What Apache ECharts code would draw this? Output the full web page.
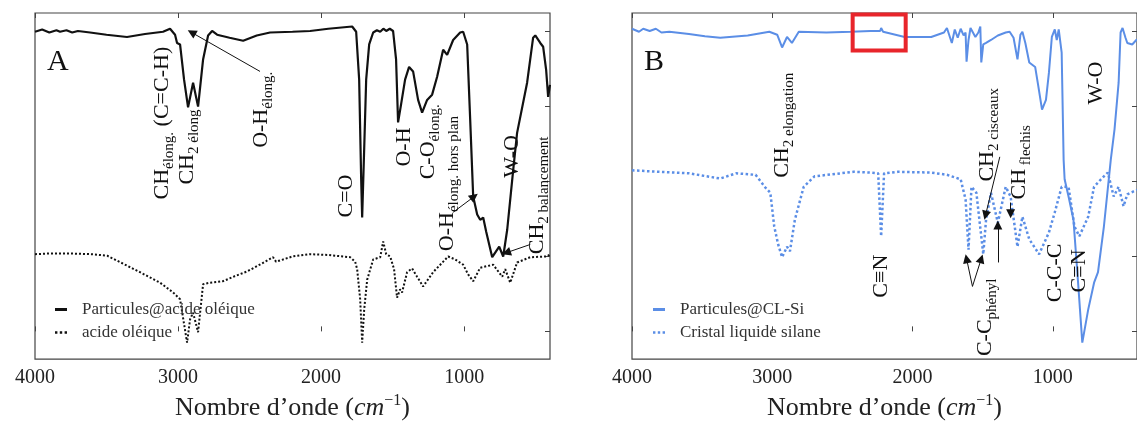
<!DOCTYPE html>
<html>
<head>
<meta charset="utf-8">
<script src="https://cdn.jsdelivr.net/npm/echarts@6/dist/echarts.min.js"></script>
<style>
  html, body { margin: 0; background: #fff; }
  #chart { width: 1137px; height: 426px; }
</style>
</head>
<body>
<div id="chart"></div>
<script>
// wavenumber (cm-1) ticks
const tickValues = [1000, 2000, 3000, 4000];
const yTicks = [0, 1, 2, 3, 4];

// panel A : [wavenumber, transmittance (a.u.)]
const particulesOleique = [
  [4000, 4.0], [3950, 4.03], [3900, 3.99], [3850, 4.02], [3825, 4.0], [3780, 4.02], [3740, 3.99],
  [3700, 4.01], [3615, 3.99], [3500, 3.96], [3357, 3.93], [3231, 3.97], [3105, 4.0], [3056, 4.04],
  [3021, 3.96], [3007, 3.85], [2986, 3.83], [2958, 3.36], [2930, 2.99], [2895, 3.32], [2860, 3.0],
  [2825, 3.63], [2790, 3.95], [2762, 4.01], [2727, 3.96], [2640, 3.92], [2545, 3.88], [2450, 3.95],
  [2357, 3.99], [2200, 4.0], [2077, 4.01], [1950, 4.04], [1783, 4.07], [1755, 4.0], [1734, 3.36],
  [1720, 2.03], [1713, 1.52], [1699, 2.43], [1685, 3.36], [1664, 3.83], [1636, 3.99], [1610, 4.02],
  [1587, 4.0], [1565, 4.04], [1545, 4.01], [1520, 4.04], [1497, 4.01], [1476, 3.63], [1462, 2.79],
  [1441, 3.03], [1413, 3.36], [1385, 3.53], [1357, 3.47], [1322, 3.09], [1294, 2.92], [1259, 3.09],
  [1224, 3.16], [1189, 3.4], [1147, 3.76], [1119, 3.69], [1077, 3.89], [1028, 3.99], [1007, 4.0],
  [979, 3.83], [958, 2.83], [937, 1.8], [909, 1.56], [888, 1.49], [867, 1.52], [846, 1.33],
  [804, 0.99], [755, 1.13], [727, 1.0], [699, 1.36], [657, 2.16], [630, 2.65], [560, 3.32],
  [518, 3.92], [503, 3.95], [468, 3.85], [448, 3.8], [427, 3.49], [413, 3.13], [400, 3.29]
];
const acideOleique = [
  [4000, 1.03], [3900, 1.04], [3755, 1.04], [3600, 1.03], [3496, 1.01], [3380, 0.9], [3266, 0.79],
  [3126, 0.65], [3035, 0.52], [2986, 0.43], [2937, -0.15], [2916, 0.16], [2895, 0.25], [2860, -0.01],
  [2825, 0.63], [2776, 0.65], [2685, 0.67], [2600, 0.74], [2517, 0.8], [2420, 0.9], [2336, 0.99],
  [2315, 0.93], [2200, 1.0], [2077, 1.03], [1950, 1.02], [1797, 0.99], [1762, 0.93], [1748, 0.83],
  [1727, 0.43], [1713, -0.15], [1699, 0.29], [1678, 0.69], [1636, 0.96], [1587, 0.99], [1566, 1.2],
  [1545, 1.03], [1517, 1.0], [1490, 0.83], [1469, 0.45], [1448, 0.56], [1434, 0.52], [1399, 0.79],
  [1364, 0.84], [1329, 0.73], [1287, 0.6], [1217, 0.79], [1112, 1.0], [1063, 0.96], [1007, 0.89],
  [972, 0.76], [937, 0.67], [888, 0.85], [797, 0.89], [734, 0.73], [713, 0.83], [678, 0.65],
  [630, 0.92], [538, 0.99], [420, 1.0], [400, 1.03]
];

// panel B
const particulesClSi = [
  [4000, 4.04], [3950, 4.0], [3920, 4.04], [3874, 4.01], [3830, 4.04], [3790, 3.99], [3734, 4.0],
  [3594, 3.97], [3480, 3.94], [3371, 3.92], [3175, 3.95], [3021, 4.0], [2965, 3.96], [2930, 3.79],
  [2895, 3.93], [2860, 3.85], [2811, 4.0], [2615, 3.99], [2441, 4.0], [2300, 4.01], [2231, 4.01],
  [2224, 4.05], [2210, 4.0], [2056, 3.93], [1867, 3.93], [1776, 3.99], [1755, 4.05], [1720, 3.85],
  [1699, 4.03], [1678, 3.92], [1657, 4.04], [1636, 3.95], [1622, 3.99], [1615, 3.6], [1601, 3.89],
  [1587, 4.05], [1552, 3.93], [1531, 3.99], [1517, 4.07], [1510, 3.59], [1496, 3.83], [1476, 3.85],
  [1441, 3.89], [1392, 3.95], [1336, 3.99], [1308, 4.0], [1280, 3.92], [1252, 3.63], [1231, 3.96],
  [1217, 4.0], [1196, 3.85], [1168, 3.59], [1147, 3.56], [1126, 3.53], [1105, 3.29], [1077, 2.96],
  [1049, 3.09], [1028, 3.45], [1007, 3.93], [986, 4.03], [972, 3.89], [958, 4.03], [937, 3.72],
  [923, 2.29], [916, 2.03], [888, 1.8], [853, 1.49], [818, 0.6], [790, -0.15], [748, 0.29],
  [706, 0.65], [678, 0.79], [636, 1.4], [587, 2.29], [560, 2.7], [531, 3.32], [517, 3.99],
  [503, 4.05], [482, 3.92], [469, 3.85], [434, 3.83], [400, 3.9]
];
const cristalLiquide = [
  [4000, 2.15], [3804, 2.13], [3594, 2.11], [3371, 2.04], [3259, 2.11], [3119, 2.09], [3049, 1.92],
  [3014, 1.85], [2986, 1.4], [2958, 1.16], [2930, 0.99], [2895, 1.13], [2874, 1.07], [2839, 1.49],
  [2776, 1.93], [2699, 2.07], [2420, 2.13], [2301, 2.12], [2245, 2.11], [2224, 1.27], [2203, 2.11],
  [2105, 2.13], [1867, 2.12], [1755, 2.09], [1657, 2.03], [1622, 1.76], [1601, 1.09], [1580, 1.93],
  [1545, 1.85], [1496, 1.03], [1476, 1.49], [1441, 1.85], [1392, 1.45], [1336, 1.93], [1301, 1.8],
  [1252, 1.13], [1217, 1.53], [1168, 1.23], [1098, 1.03], [1028, 1.32], [986, 1.59], [937, 1.93],
  [888, 1.93], [846, 1.4], [811, 1.27], [748, 1.53], [706, 1.93], [657, 2.03], [608, 2.12],
  [566, 1.8], [531, 1.93], [496, 1.67], [469, 1.83], [400, 1.89]
];

const blue = '#5b8ee6';
const serif = 'Liberation Serif';
const rich = {
  b: { fontSize: 22, fontFamily: serif, color: '#111' },
  s: { fontSize: 15, fontFamily: serif, color: '#111', padding: [14, 0, 0, 0] }
};
const dots = 'path://M0,0h2v2h-2zM4,0h2v2h-2zM8,0h2v2h-2z';

const chart = echarts.init(document.getElementById('chart'));

function xAxisFor(grid, pos) {
  return {
    type: 'value', gridIndex: grid, position: pos, inverse: true, min: 400, max: 4000,
    axisLine: { show: false },
    axisTick: { show: true, inside: true, length: 5, customValues: tickValues,
      lineStyle: { color: '#444', width: 1 } },
    axisLabel: { show: pos === 'bottom', customValues: tickValues, margin: 9,
      formatter: v => String(v), fontFamily: serif, fontSize: 20, color: '#222' },
    splitLine: { show: false },
    name: pos === 'bottom' ? 'Nombre d\u2019onde ({i|cm}{sup|\u22121})' : '',
    nameLocation: 'middle', nameGap: 32,
    nameTextStyle: {
      fontFamily: serif, fontSize: 26, color: '#222',
      rich: {
        i: { fontFamily: serif, fontStyle: 'italic', fontSize: 26, color: '#222' },
        sup: { fontFamily: serif, fontSize: 16, color: '#222', padding: [0, 0, 14, 0] }
      }
    }
  };
}
function yAxisFor(grid) {
  return {
    type: 'value', gridIndex: grid, position: 'right', min: -0.37, max: 4.25,
    axisLine: { show: false },
    axisTick: { show: true, inside: true, length: 5, customValues: yTicks,
      lineStyle: { color: '#444' } },
    axisLabel: { show: false },
    splitLine: { show: false }
  };
}
function line(name, data, xi, yi, color, type, width) {
  return {
    name, type: 'line', data, xAxisIndex: xi, yAxisIndex: yi,
    showSymbol: false, symbol: 'none', smooth: false,
    lineStyle: { color, width, type }, itemStyle: { color },
    z: type === 'solid' ? 3 : 2
  };
}
function arrows(pairs) {
  return {
    silent: true, symbol: ['none', 'triangle'], symbolSize: 9,
    label: { show: false },
    lineStyle: { color: '#111', width: 1, type: 'solid' },
    data: pairs.map(p => [{ coord: p[0] }, { coord: p[1] }])
  };
}
function legendFor(names, left) {
  return {
    data: [{ name: names[0], icon: 'rect' }, { name: names[1], icon: dots }],
    orient: 'vertical', left, top: 296, itemWidth: 12, itemHeight: 3, itemGap: 6,
    textStyle: { fontFamily: serif, fontSize: 17, color: '#333', padding: [0, 0, 0, 10] }
  };
}

const sA1 = line('Particules@acide ol\u00e9ique', particulesOleique, 0, 0, '#111', 'solid', 2.2);
sA1.markLine = arrows([
  [[2427, 3.47], [2905, 3.99]],
  [[1077, 1.59], [930, 1.8]],
  [[538, 1.16], [705, 1.05]]
]);
const sA2 = line('acide ol\u00e9ique', acideOleique, 0, 0, '#111', 'dotted', 2);
const sB1 = line('Particules@CL-Si', particulesClSi, 2, 1, blue, 'solid', 2);
sB1.markLine = arrows([
  [[1378, 2.33], [1480, 1.55]],
  [[1301, 1.72], [1301, 1.57]],
  [[1573, 0.6], [1615, 0.97]],
  [[1573, 0.6], [1510, 0.97]],
  [[1392, 0.92], [1392, 1.42]]
]);
const sB2 = line('Cristal liquide silane', cristalLiquide, 2, 1, blue, 'dotted', 2.5);

chart.setOption({
  animation: false,
  grid: [
    { left: 35, top: 13, width: 515, height: 347, show: true, borderColor: '#444', borderWidth: 1.2 },
    { left: 632, top: 13, width: 515, height: 347, show: true, borderColor: '#444', borderWidth: 1.2 }
  ],
  xAxis: [xAxisFor(0, 'bottom'), xAxisFor(0, 'top'), xAxisFor(1, 'bottom'), xAxisFor(1, 'top')],
  yAxis: [yAxisFor(0), yAxisFor(1)],
  legend: [
    legendFor(['Particules@acide ol\u00e9ique', 'acide ol\u00e9ique'], 50),
    legendFor(['Particules@CL-Si', 'Cristal liquide silane'], 648)
  ],
  series: [sA1, sA2, sB1, sB2]
});

// annotations: [text, wavenumber, value at text start, panel]
const notes = [
  ['{b|CH}{s|\u00e9long.}{b| (C=C-H)}', 3112, 1.76, 0],
  ['{b|CH}{s|2}{s| \u00e9long}', 2937, 1.96, 0],
  ['{b|O-H}{s|\u00e9long.}', 2420, 2.45, 0],
  ['{b|C=O}', 1825, 1.52, 0],
  ['{b|O-H}', 1420, 2.2, 0],
  ['{b|C-O}{s|\u00e9long.}', 1252, 2.03, 0],
  ['{b|O-H}{s|\u00e9long. hors plan}', 1119, 1.07, 0],
  ['{b|W-O}', 664, 2.05, 0],
  ['{b|CH}{s|2}{s| balancement}', 490, 1.03, 0],
  ['{b|CH}{s|2}{s| elongation}', 2930, 2.05, 1],
  ['{b|C\u2261N}', 2224, 0.45, 1],
  ['{b|C-C}{s|ph\u00e9nyl}', 1483, -0.33, 1],
  ['{b|CH}{s|2}{s| cisceaux}', 1469, 2.0, 1],
  ['{b|CH}{s| flechis}', 1238, 1.76, 1],
  ['{b|C-C-C}', 986, 0.39, 1],
  ['{b|C\u2261N}', 811, 0.52, 1],
  ['{b|W-O}', 692, 3.03, 1]
];
const graphic = notes.map(n => {
  const p = chart.convertToPixel({ xAxisIndex: n[3] ? 2 : 0, yAxisIndex: n[3] }, [n[1], n[2]]);
  return {
    type: 'text', x: p[0], y: p[1], rotation: Math.PI / 2, z: 10,
    style: { text: n[0], rich, fill: '#111', align: 'left', verticalAlign: 'middle' }
  };
});
graphic.push(
  { type: 'text', left: 47, top: 47, z: 10,
    style: { text: 'A', fontFamily: serif, fontSize: 30, fill: '#111' } },
  { type: 'text', left: 644, top: 47, z: 10,
    style: { text: 'B', fontFamily: serif, fontSize: 30, fill: '#111' } }
);
const r0 = chart.convertToPixel({ xAxisIndex: 2, yAxisIndex: 1 }, [2427, 4.23]);
const r1 = chart.convertToPixel({ xAxisIndex: 2, yAxisIndex: 1 }, [2049, 3.75]);
graphic.push({
  type: 'rect', z: 10,
  shape: { x: r0[0], y: r0[1], width: r1[0] - r0[0], height: r1[1] - r0[1] },
  style: { fill: 'none', stroke: '#e8252b', lineWidth: 4 }
});
chart.setOption({ graphic });
</script>
</body>
</html>
